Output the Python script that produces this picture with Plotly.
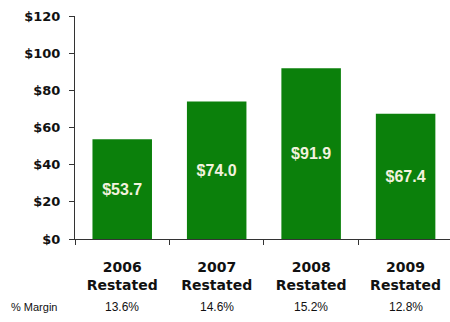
import plotly.graph_objects as go

categories = ["2006<br>Restated", "2007<br>Restated", "2008<br>Restated", "2009<br>Restated"]
values = [53.7, 74.0, 91.9, 67.4]
value_labels = ["$53.7", "$74.0", "$91.9", "$67.4"]
margins = ["13.6%", "14.6%", "15.2%", "12.8%"]
y_ticks = [0, 20, 40, 60, 80, 100, 120]
y_tick_labels = ["$0", "$20", "$40", "$60", "$80", "$100", "$120"]

W, H = 450, 322
ml, mr, mt, mb = 75, 0, 16, 83
plot_h = H - mt - mb
plot_w = W - ml - mr

fig = go.Figure()
fig.add_trace(go.Bar(
    x=categories, y=values,
    marker=dict(color="#0B800B", line=dict(width=0)),
    text=value_labels, textposition="inside", insidetextanchor="middle",
    textfont=dict(family="Liberation Sans, Arial", size=16, color="#F2F2DE", weight="bold"),
    textangle=0,
    width=0.63,
))

for i, m in enumerate(margins):
    fig.add_annotation(x=categories[i], xref="x", y=(-307 + (H - mb)) / plot_h, yref="paper",
                       text=m, showarrow=False, yanchor="middle", xanchor="center",
                       font=dict(family="Liberation Sans, Arial", size=12, color="#111"))
fig.add_annotation(x=(9 - ml) / plot_w, xref="paper", y=(-307 + (H - mb)) / plot_h, yref="paper",
                   text="% Margin", showarrow=False, yanchor="middle", xanchor="left",
                   font=dict(family="Liberation Sans, Arial", size=11, color="#111"))

fig.update_layout(
    width=W, height=H,
    margin=dict(l=ml, r=mr, t=mt, b=mb, pad=0, autoexpand=False),
    paper_bgcolor="white", plot_bgcolor="white",
    showlegend=False,
    xaxis=dict(
        range=[-0.5, 3.47], showgrid=False, showline=True, linecolor="#333", linewidth=1,
        ticks="outside", tickson="boundaries", ticklen=5, tickcolor="#333",
        tickfont=dict(family="DejaVu Sans", size=14, color="#111", weight="bold"),
        ticklabelstandoff=15, automargin=False,
    ),
    yaxis=dict(
        range=[0, 120], tickvals=y_ticks, ticktext=y_tick_labels, showgrid=False,
        showline=True, linecolor="#333", linewidth=1, ticks="outside", ticklen=5, tickcolor="#333",
        tickfont=dict(family="DejaVu Sans", size=13, color="#111", weight="bold"),
        ticklabelstandoff=6, zeroline=False, automargin=False,
    ),
)

fig.write_html("out.html", config={"displayModeBar": False},
               post_script="document.body.style.margin='0';document.body.style.overflow='hidden';")
